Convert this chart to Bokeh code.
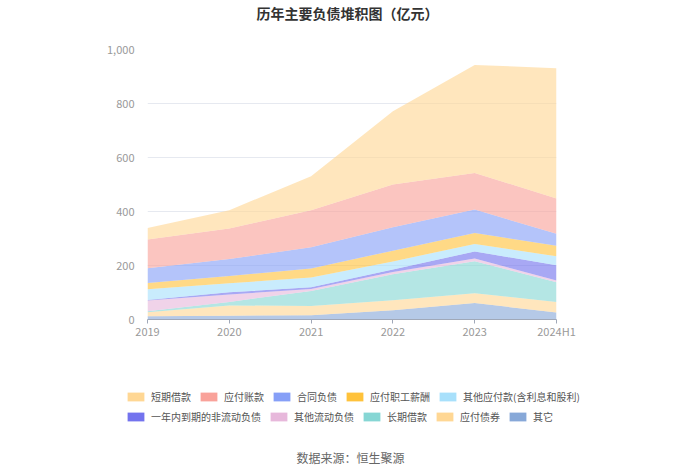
from bokeh.plotting import figure
from bokeh.layouts import column
from bokeh.models import (ColumnDataSource, Range1d, FixedTicker, NumeralTickFormatter,
                          Legend, LegendItem, Label)
from bokeh.embed import file_html
from bokeh.resources import INLINE

# ---- data ----
periods = ["2019", "2020", "2021", "2022", "2023", "2024H1"]

其它 = [12, 14, 16, 34, 61, 26]
应付债券 = [15, 38, 34, 37, 36, 39]
长期借款 = [4, 13, 56, 97, 119, 73]
其他流动负债 = [39, 28, 7, 8, 10, 6]
一年内到期的非流动负债 = [2, 8, 6, 9, 26, 57]
其他应付款 = [40, 33, 37, 30, 28, 33]
应付职工薪酬 = [23, 27, 33, 40, 40, 39]
合同负债 = [55, 63, 79, 87, 87, 45]
应付账款 = [106, 113, 137, 158, 136, 130]
短期借款 = [43, 68, 126, 271, 400, 483]

# bottom -> top stacking order
series_names = ["其它", "应付债券", "长期借款", "其他流动负债", "一年内到期的非流动负债",
                "其他应付款(含利息和股利)", "应付职工薪酬", "合同负债", "应付账款", "短期借款"]
series_values = [其它, 应付债券, 长期借款, 其他流动负债, 一年内到期的非流动负债,
                 其他应付款, 应付职工薪酬, 合同负债, 应付账款, 短期借款]
series_colors = ["#87A8D8", "#FFD794", "#86D6D4", "#E7B8DB", "#7373EE",
                 "#A8E0FB", "#FFC23B", "#869FF7", "#F9A29A", "#FFD794"]

legend_row1 = ["短期借款", "应付账款", "合同负债", "应付职工薪酬", "其他应付款(含利息和股利)"]
legend_row2 = ["一年内到期的非流动负债", "其他流动负债", "长期借款", "应付债券", "其它"]

yticks = [0, 200, 400, 600, 800, 1000]

title_text = "历年主要负债堆积图（亿元）"
footer_text = "数据来源：恒生聚源"

FONT = "Noto Sans CJK SC"
W = 700

def blank_fig(h):
    f = figure(width=W, height=h, output_backend="svg", toolbar_location=None,
               x_range=Range1d(0, W), y_range=Range1d(0, h),
               min_border=0, min_border_left=0, min_border_right=0,
               min_border_top=0, min_border_bottom=0, frame_align=False)
    f.axis.visible = False
    f.grid.visible = False
    f.outline_line_color = None
    return f

# ---- title figure ----
TH = 24
pt = blank_fig(TH)
pt.add_layout(Label(x=347, y=TH - 12, x_units="screen", y_units="screen",
                    text=title_text, text_align="center", text_baseline="middle",
                    text_font=FONT, text_font_size="14px", text_font_style="bold",
                    text_color="#333333"))

# ---- chart figure ----
xs = list(range(len(periods)))
data = {"x": xs}
for n, v in zip(series_names, series_values):
    data[n] = v
source = ColumnDataSource(data)

CH = 321
p = figure(width=W, height=CH, output_backend="svg", toolbar_location=None,
           x_range=Range1d(0, len(periods) - 1), y_range=Range1d(0, 1000),
           min_border_left=147, min_border_right=144, min_border_top=25,
           min_border_bottom=26, frame_align=False)
p.outline_line_color = None

p.varea_stack(stackers=series_names, x="x", color=series_colors, fill_alpha=0.62,
              source=source)

p.xaxis.ticker = FixedTicker(ticks=xs)
p.xaxis.major_label_overrides = {i: s for i, s in enumerate(periods)}
p.xaxis.axis_line_color = "#A0A8B8"
p.xaxis.major_tick_line_color = "#A0A8B8"
p.xaxis.major_tick_out = 4
p.xaxis.major_tick_in = 0
p.xaxis.minor_tick_line_color = None
p.xaxis.major_label_text_color = "#999999"
p.xaxis.major_label_text_font = FONT
p.xaxis.major_label_text_font_size = "11px"
p.xaxis.major_label_standoff = -1

p.yaxis.ticker = FixedTicker(ticks=yticks)
p.yaxis.formatter = NumeralTickFormatter(format="0,0")
p.yaxis.axis_line_color = None
p.yaxis.major_tick_line_color = None
p.yaxis.minor_tick_line_color = None
p.yaxis.major_label_text_color = "#999999"
p.yaxis.major_label_text_font = FONT
p.yaxis.major_label_text_font_size = "11px"
p.yaxis.major_label_standoff = 7

p.xgrid.grid_line_color = None
p.ygrid.grid_line_color = "#E6E9F0"
p.ygrid.ticker = FixedTicker(ticks=yticks)

# ---- legend + footer figure ----
LH = 125
TOP = TH + CH  # page y where this figure starts
pl = blank_fig(LH)
color_of = dict(zip(series_names, series_colors))
dummy = {}
for n in series_names:
    # zero-height swatch source, placed outside the visible range
    dummy[n] = pl.varea(x=[-50, -40], y1=[-50, -50], y2=[-50, -50],
                        fill_color=color_of[n], fill_alpha=1.0)

def make_legend(names, bottom_page_y):
    lg = Legend(items=[LegendItem(label=n, renderers=[dummy[n]]) for n in names],
                location=(125, LH - (bottom_page_y - TOP)), orientation="horizontal",
                glyph_width=21, glyph_height=11, label_standoff=5, spacing=7,
                label_height=14, label_width=10, padding=0, margin=0,
                border_line_alpha=0, background_fill_alpha=0,
                label_text_font=FONT, label_text_font_size="10px",
                label_text_color="#555555")
    pl.add_layout(lg, "center")

make_legend(legend_row1, 404)
make_legend(legend_row2, 424)

pl.add_layout(Label(x=350, y=LH - (457 - TOP), x_units="screen", y_units="screen",
                    text=footer_text, text_align="center", text_baseline="middle",
                    text_font=FONT, text_font_size="12px", text_color="#666666"))

layout = column(pt, p, pl, spacing=0)
open("out.html", "w").write(file_html(layout, INLINE))
